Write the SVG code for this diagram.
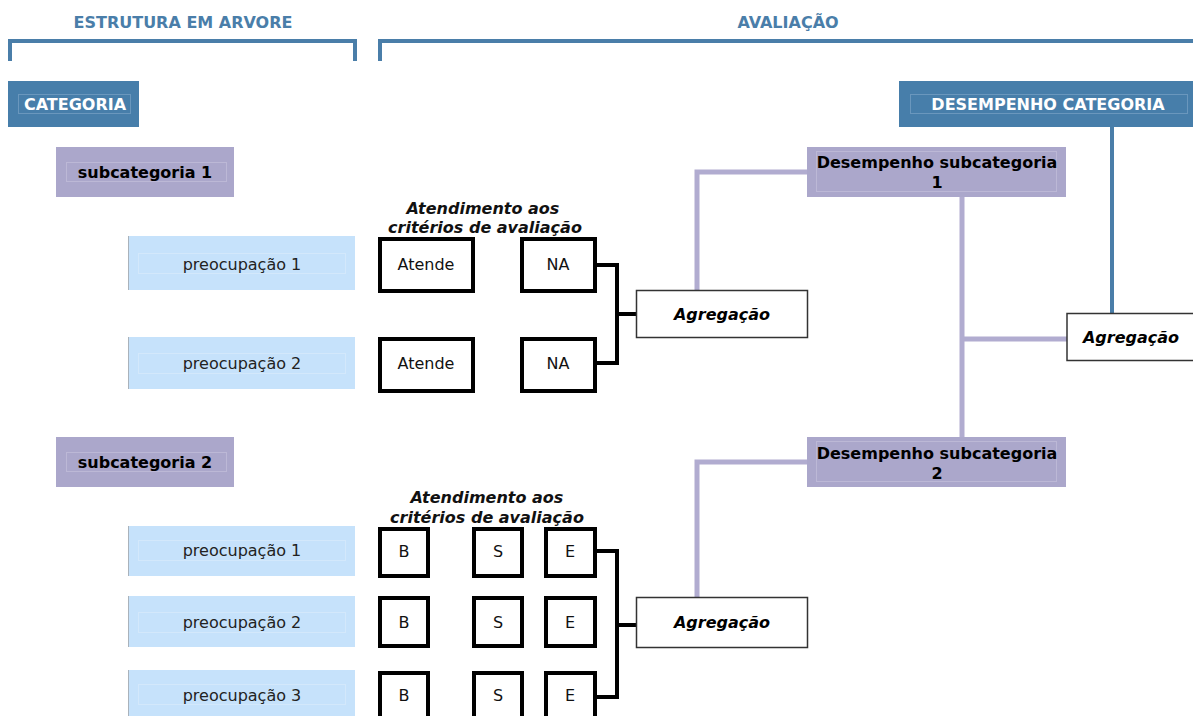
<svg xmlns="http://www.w3.org/2000/svg" width="1193" height="716" viewBox="0 0 1193 716">
  <style>
    .hdr { font-family: "DejaVu Sans", Verdana, sans-serif; font-weight: bold; font-size: 16px; fill: #4a7ea9; text-anchor: middle; }
    .bracket { fill: none; stroke: #4a7ea9; stroke-width: 4; }
    .cat { fill: #477eaa; }
    .cat-in { fill: none; stroke: #6a97bd; stroke-width: 1; }
    .cat-t { font-family: "DejaVu Sans", Verdana, sans-serif; font-weight: bold; font-size: 16px; fill: #ffffff; text-anchor: middle; }
    .sub { fill: #aba7cb; }
    .sub-in { fill: none; stroke: #bcb8d6; stroke-width: 1; }
    .sub-t { font-family: "DejaVu Sans", Verdana, sans-serif; font-weight: bold; font-size: 16px; fill: #000; text-anchor: middle; }
    .pre { fill: #c6e2fb; }
    .pre-in { fill: none; stroke: #d3e8fb; stroke-width: 1; }
    .pre-edge { stroke: #a9b2bb; stroke-width: 1; }
    .pre-t { font-family: "DejaVu Sans", Verdana, sans-serif; font-size: 16px; fill: #222; text-anchor: middle; }
    .crit { fill: #fff; stroke: #000; stroke-width: 4; }
    .crit-t { font-family: "DejaVu Sans", Verdana, sans-serif; font-size: 16px; fill: #111; text-anchor: middle; }
    .lbl { font-family: "DejaVu Sans", Verdana, sans-serif; font-weight: bold; font-style: italic; font-size: 16px; fill: #111; text-anchor: middle; }
    .agg { fill: #fff; stroke: #333; stroke-width: 1.5; }
    .agg-t { font-family: "DejaVu Sans", Verdana, sans-serif; font-weight: bold; font-style: italic; font-size: 16px; fill: #000; text-anchor: middle; }
    .k { fill: none; stroke: #000; stroke-width: 4; }
    .p { fill: none; stroke: #b1acd0; stroke-width: 5; }
    .b { fill: none; stroke: #4a7ea9; stroke-width: 4; }
  </style>

  <!-- section headers -->
  <g id="header-arvore">
    <text class="hdr" x="183" y="28">ESTRUTURA EM ARVORE</text>
    <path class="bracket" d="M10,61 V41 H355 V61"/>
  </g>
  <g id="header-avaliacao">
    <text class="hdr" x="788" y="28">AVALIAÇÃO</text>
    <path class="bracket" d="M380,61 V41 H1195"/>
  </g>

  <!-- connectors -->
  <g id="connectors">
    <!-- group 1 criteria to aggregation -->
    <path class="k" d="M595,265 H617 V363 H595 M617,314 H637"/>
    <!-- group 2 criteria to aggregation -->
    <path class="k" d="M595,551 H617 V697 H595 M617,625 H637"/>
    <!-- aggregations to subcategory performance -->
    <path class="p" d="M697,290 V172 H807"/>
    <path class="p" d="M697,597 V462 H807"/>
    <!-- subcategory performance to category aggregation -->
    <path class="p" d="M962,197 V437 M962,339 H1067"/>
    <!-- category aggregation to category performance -->
    <path class="b" d="M1112,127 V313"/>
  </g>

  <!-- tree structure -->
  <g id="categoria">
    <rect class="cat" x="8" y="81" width="131" height="46"/>
    <rect class="cat-in" x="18.5" y="94.5" width="112" height="19"/>
    <text class="cat-t" x="75" y="110">CATEGORIA</text>
  </g>

  <g id="subcategoria-1">
    <rect class="sub" x="56" y="147" width="178" height="50"/>
    <rect class="sub-in" x="66.5" y="162.5" width="160" height="19"/>
    <text class="sub-t" x="145" y="178">subcategoria 1</text>
  </g>
  <g id="s1-preocupacao-1">
    <rect class="pre" x="128" y="236" width="227" height="54"/>
    <line class="pre-edge" x1="128.5" y1="236" x2="128.5" y2="290"/>
    <rect class="pre-in" x="138.5" y="253.5" width="207" height="20"/>
    <text class="pre-t" x="242" y="270">preocupação 1</text>
  </g>
  <g id="s1-preocupacao-2">
    <rect class="pre" x="128" y="337" width="227" height="52"/>
    <line class="pre-edge" x1="128.5" y1="337" x2="128.5" y2="389"/>
    <rect class="pre-in" x="138.5" y="353.5" width="207" height="20"/>
    <text class="pre-t" x="242" y="369">preocupação 2</text>
  </g>

  <g id="subcategoria-2">
    <rect class="sub" x="56" y="437" width="178" height="50"/>
    <rect class="sub-in" x="66.5" y="452.5" width="160" height="19"/>
    <text class="sub-t" x="145" y="468">subcategoria 2</text>
  </g>
  <g id="s2-preocupacao-1">
    <rect class="pre" x="128" y="526" width="227" height="50"/>
    <line class="pre-edge" x1="128.5" y1="526" x2="128.5" y2="576"/>
    <rect class="pre-in" x="138.5" y="540.5" width="207" height="20"/>
    <text class="pre-t" x="242" y="556">preocupação 1</text>
  </g>
  <g id="s2-preocupacao-2">
    <rect class="pre" x="128" y="596" width="227" height="51"/>
    <line class="pre-edge" x1="128.5" y1="596" x2="128.5" y2="647"/>
    <rect class="pre-in" x="138.5" y="612.5" width="207" height="20"/>
    <text class="pre-t" x="242" y="628">preocupação 2</text>
  </g>
  <g id="s2-preocupacao-3">
    <rect class="pre" x="128" y="670" width="227" height="52"/>
    <line class="pre-edge" x1="128.5" y1="670" x2="128.5" y2="722"/>
    <rect class="pre-in" x="138.5" y="684.5" width="207" height="20"/>
    <text class="pre-t" x="242" y="701">preocupação 3</text>
  </g>

  <!-- criteria group 1 -->
  <g id="criterios-1-label">
    <text class="lbl" x="483" y="214">Atendimento aos</text>
    <text class="lbl" x="485" y="233">critérios de avaliação</text>
  </g>
  <g id="c1-atende-1"><rect class="crit" x="380" y="239" width="93" height="52"/><text class="crit-t" x="426" y="270">Atende</text></g>
  <g id="c1-na-1"><rect class="crit" x="522" y="239" width="73" height="52"/><text class="crit-t" x="558" y="270">NA</text></g>
  <g id="c1-atende-2"><rect class="crit" x="380" y="339" width="93" height="52"/><text class="crit-t" x="426" y="369">Atende</text></g>
  <g id="c1-na-2"><rect class="crit" x="522" y="339" width="73" height="52"/><text class="crit-t" x="558" y="369">NA</text></g>

  <!-- criteria group 2 -->
  <g id="criterios-2-label">
    <text class="lbl" x="487" y="503">Atendimento aos</text>
    <text class="lbl" x="487" y="523">critérios de avaliação</text>
  </g>
  <g id="c2-b-1"><rect class="crit" x="380" y="529" width="48" height="47"/><text class="crit-t" x="404" y="557">B</text></g>
  <g id="c2-s-1"><rect class="crit" x="474" y="529" width="48" height="47"/><text class="crit-t" x="498" y="557">S</text></g>
  <g id="c2-e-1"><rect class="crit" x="546" y="529" width="49" height="47"/><text class="crit-t" x="570" y="557">E</text></g>
  <g id="c2-b-2"><rect class="crit" x="380" y="598" width="48" height="48"/><text class="crit-t" x="404" y="628">B</text></g>
  <g id="c2-s-2"><rect class="crit" x="474" y="598" width="48" height="48"/><text class="crit-t" x="498" y="628">S</text></g>
  <g id="c2-e-2"><rect class="crit" x="546" y="598" width="49" height="48"/><text class="crit-t" x="570" y="628">E</text></g>
  <g id="c2-b-3"><rect class="crit" x="380" y="673" width="48" height="48"/><text class="crit-t" x="404" y="701">B</text></g>
  <g id="c2-s-3"><rect class="crit" x="474" y="673" width="48" height="48"/><text class="crit-t" x="498" y="701">S</text></g>
  <g id="c2-e-3"><rect class="crit" x="546" y="673" width="49" height="48"/><text class="crit-t" x="570" y="701">E</text></g>

  <!-- aggregations -->
  <g id="agregacao-1">
    <rect class="agg" x="636.5" y="290.5" width="171" height="47"/>
    <text class="agg-t" x="722" y="320">Agregação</text>
  </g>
  <g id="agregacao-2">
    <rect class="agg" x="636.5" y="597.5" width="171" height="50"/>
    <text class="agg-t" x="722" y="628">Agregação</text>
  </g>
  <g id="agregacao-categoria">
    <rect class="agg" x="1067" y="313.5" width="130" height="47"/>
    <text class="agg-t" x="1131" y="343">Agregação</text>
  </g>

  <!-- performance -->
  <g id="desempenho-subcategoria-1">
    <rect class="sub" x="807" y="147" width="259" height="50"/>
    <rect class="sub-in" x="816.5" y="151.5" width="240" height="40"/>
    <text class="sub-t" x="937" y="168">Desempenho subcategoria</text>
    <text class="sub-t" x="937" y="188">1</text>
  </g>
  <g id="desempenho-subcategoria-2">
    <rect class="sub" x="807" y="437" width="259" height="50"/>
    <rect class="sub-in" x="816.5" y="441.5" width="240" height="40"/>
    <text class="sub-t" x="937" y="459">Desempenho subcategoria</text>
    <text class="sub-t" x="937" y="479">2</text>
  </g>
  <g id="desempenho-categoria">
    <rect class="cat" x="899" y="81" width="296" height="46"/>
    <rect class="cat-in" x="910.5" y="94.5" width="277" height="19"/>
    <text class="cat-t" x="1048" y="110">DESEMPENHO CATEGORIA</text>
  </g>
</svg>
